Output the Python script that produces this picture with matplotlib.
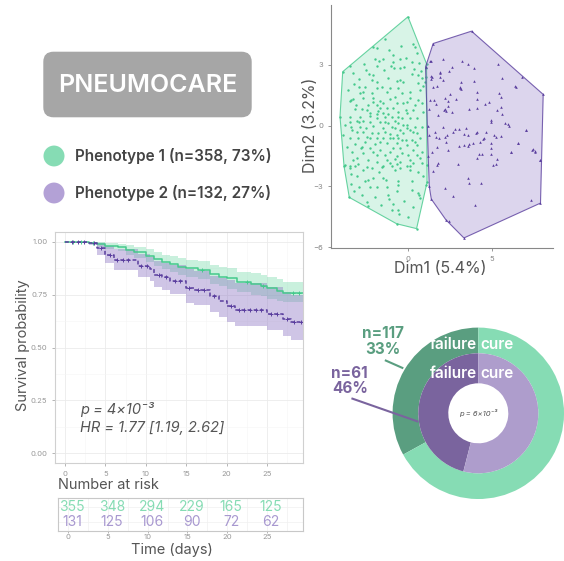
import numpy as np
import matplotlib
matplotlib.use("Agg")
import matplotlib.pyplot as plt
from matplotlib.patches import FancyBboxPatch, Polygon, Circle

plt.rcParams["font.family"] = ["Inter", "DejaVu Sans"]

W, H = 564, 561

# ---------------- data ----------------
group_labels = ["Phenotype 1 (n=358, 73%)", "Phenotype 2 (n=132, 27%)"]

# cluster map (individual coordinates on the first two dimensions)
pheno1_dim1 = [0.02, -1.34, -2.07, -1.79, 0.30, 0.43, -3.41, -3.84, -3.21, -2.46, -2.27, -2.03, -1.93, -1.67,
               -1.44, -0.89, -0.89, -0.45, -0.10, -0.98, -0.79, -1.83, -1.40, -0.45, -0.22, 0.24, 0.69, 0.37,
               0.77, 0.24, 0.63, 1.12, 1.08, -2.13, -1.83, -0.65, -0.45, -0.30, 0.63, 1.02, 1.08,
               -3.51, -2.86, -2.52, -1.83, -1.54, -0.55, 0.14, 0.73, 0.93, -0.36, -1.24, -2.13, -2.82, -3.21,
               -3.41, -2.62, -2.03, -1.64, -1.04, -0.75, 0.14, 0.63, 0.83, -0.26, -0.65, -1.44, -1.83, -2.32,
               -2.72, -3.11, -2.42, -1.64, -1.24, -0.85, 0.33, -0.55, -0.06, 0.89, -4.00, -3.41, -2.82, -2.23,
               -1.83, -1.34, -0.95, -0.36, 0.14, 0.53, -2.23, -2.62, -3.02, -3.41, -3.70, -1.64, -1.14, -0.55,
               -0.06, 0.43, 0.83, -2.82, -2.03, -1.44, -0.95, -0.45, 0.14, -3.31, -2.62, -2.13, -1.73, -1.34,
               -1.04, -0.65, -0.26, 0.53, -3.84, -3.41, -2.92, -2.42, -1.83, -1.44, -0.85, -0.36, 0.24, 0.73,
               -2.52, -3.11, -1.93, -1.24, -0.65, -0.06, 0.53, -3.61, -2.72, -2.23, -1.64, -0.85, -0.45, 0.33,
               0.83, -3.31, -2.62, -1.83, -1.34, -0.65, 0.04, -3.02, -2.32, -1.24, -0.75, 0.14, 0.73, -3.70,
               -3.41, -2.92, -2.42, -1.44, -1.04, -0.65, 0.14, 0.83,
               -3.45, -3.76, 0.53, -0.65, 1.08, 1.12, -3.41, -3.11, -2.62, -2.13, -1.54, -0.95, -0.75, -0.45,
               -0.06, 0.14, 0.63, -3.37, -2.52, -2.32, -2.03, -1.44, -1.28, -0.55, -0.55, 0.24, -3.37, -2.86,
               -2.23, -1.83, -1.24, -0.65, 0.24, 0.63, 0.73, -1.14, -1.93, -1.08, -2.42, -2.32, -0.85, -0.95,
               -0.55, -0.49, 0.04, 0.69, 1.15,
               -3.37, -3.05, -2.07, -1.73, -1.48, -1.14, -0.75, -0.30, -0.02, 0.33, -2.46, -2.97, -2.23, -1.64,
               -1.04, -0.55, -0.10, 0.43, -2.78, -2.03, -1.04, -0.36, 0.53, -3.21, -1.83, -0.45, 0.33, -2.62,
               -1.04, -0.06, 0.43, -2.23, -1.83, -1.34, -0.75, -2.86, -3.37, -0.10, -0.55,
               -2.90, -2.60, -1.10, -0.40, 0.55, -3.20, 0.85, -1.15,
               -3.00, -2.70, -1.60, -0.20, 0.30, -3.20, 0.90, -1.70]
pheno1_dim2 = [5.37, 4.26, 3.89, 3.84, 4.05, 3.89, 2.94, 2.66, 2.62, 2.74, 2.54, 2.49, 3.31, 3.18,
               3.28, 3.48, 3.12, 3.31, 3.36, 2.94, 2.85, 2.94, 2.74, 2.82, 2.90, 3.15, 3.07, 2.79,
               2.69, 2.57, 2.49, 3.05, 2.85, 2.25, 2.17, 2.20, 2.25, 2.13, 2.08, 2.17, 2.41,
               1.75, 1.92, 1.92, 1.84, 1.92, 1.84, 1.67, 1.75, 1.95, 1.59, 1.64, 1.59, 1.59, 1.31,
               1.21, 1.34, 1.38, 1.21, 1.31, 1.43, 1.38, 1.26, 1.10, 1.10, 1.10, 1.10, 1.02, 1.02,
               0.82, 0.82, 0.77, 0.85, 0.88, 0.88, 0.77, 0.66, 0.61, 0.69, 0.44, 0.44, 0.44, 0.49,
               0.56, 0.44, 0.44, 0.36, 0.36, 0.36, 0.20, 0.23, 0.23, 0.20, 0.03, 0.16, 0.11, 0.11,
               0.03, -0.05, -0.05, -0.05, 0.00, -0.10, -0.05, -0.21, -0.21, -0.21, -0.30, -0.38, -0.38, -0.30,
               -0.43, -0.46, -0.38, -0.38, -0.46, -0.62, -0.59, -0.54, -0.62, -0.59, -0.59, -0.71, -0.71, -0.62,
               -0.79, -0.92, -0.92, -0.87, -0.87, -0.95, -0.95, -1.03, -1.03, -1.12, -1.20, -1.12, -1.08, -1.20,
               -1.28, -1.28, -1.36, -1.44, -1.44, -1.48, -1.44, -1.61, -1.69, -1.69, -1.64, -1.69, -1.61, -1.94,
               -1.97, -1.90, -2.02, -1.97, -1.85, -1.90, -1.97, -1.85,
               -3.54, -2.01, -5.08, -4.84, -2.92, -1.93, -2.10, -2.01, -2.18, -2.10, -2.06, -2.01, -2.18, -2.10,
               -2.01, -2.18, -2.29, -2.39, -2.72, -2.67, -2.59, -2.59, -2.67, -2.75, -2.92, -2.75, -2.88, -3.05,
               -3.05, -3.05, -3.05, -3.21, -3.16, -3.33, -3.57, -3.41, -3.54, -3.61, -3.77, -3.98, -3.87, -4.15,
               -4.15, -4.36, -4.52, -3.44, -2.80,
               1.26, 1.02, 1.18, 0.72, 0.61, 0.56, 0.23, 0.03, -0.13, -0.30, -0.13, -0.30, -0.62, -0.79,
               -0.62, -0.59, -0.71, -0.79, -1.12, -1.28, -1.28, -1.36, -1.44, -1.69, -1.77, -1.77, -1.85, 1.67,
               1.84, 1.18, 1.02, 0.61, 0.36, 0.20, -0.13, 0.16, -0.05, 0.77, 0.44,
               2.30, 3.05, 3.75, 3.95, 3.60, 2.05, 2.35, 2.35,
               -2.50, -3.40, -3.90, -3.70, -4.00, -3.20, -2.50, -2.30]

pheno2_dim1 = [3.78, 2.10, 3.23, 2.64, 2.46, 3.55, 3.94, 5.35, 5.61, 6.74, 6.38, 2.10, 3.15, 3.92, 3.09, 1.91,
               1.51, 1.36, 1.91, 1.36, 1.91, 1.75, 1.06,
               3.09, 3.13, 4.08, 5.40, 5.53, 6.40, 2.50, 2.86, 2.38, 2.20, 2.40, 2.20, 2.30, 2.15, 2.60, 3.64,
               4.11, 4.13, 4.57, 4.82, 5.55, 5.30, 5.61, 4.96, 4.92, 5.77, 5.91, 6.01, 6.99, 2.11, 2.80, 3.05,
               3.48, 2.66, 2.34, 2.20, 3.35, 3.58, 4.04, 4.11, 4.63, 4.51, 4.43, 5.10, 5.20, 5.53, 2.26, 3.05,
               3.35, 3.64, 3.58, 3.88, 4.31, 4.96, 4.96, 6.54, 2.40, 6.14, 7.39, 7.52, 4.23, 4.39, 4.08, 4.96,
               7.82, 5.22, 2.99,
               1.51, 1.71, 1.81, 2.20, 2.70, 3.58, 3.64, 4.37, 3.98, 5.06, 5.26, 6.11, 6.54, 7.03, 7.33, 7.52,
               7.27, 7.82, 7.86, 8.02, 3.33, 2.26, 2.46, 1.40, 1.28,
               1.32, 1.36, 1.42, 1.51, 1.32, 1.55, 1.65, 1.28, 1.81, 1.22, 1.61, 1.65, 1.28, 1.71, 1.42, 1.87,
               1.22]
pheno2_dim2 = [4.66, 3.28, 3.18, 2.87, 2.69, 3.05, 2.85, 3.02, 2.33, 2.41, 1.95, 2.25, 2.13, 2.20, 1.92, 2.58,
               4.05, 3.18, 2.66, 2.46, 2.41, 1.95, 2.90,
               1.87, 1.81, 1.64, 1.59, 1.40, 1.92, 1.56, 1.31, 1.21, 1.35, 0.99, 0.82, 0.72, 0.77, 0.66, 0.80,
               1.31, 0.89, 1.05, 1.15, 0.94, 0.76, 0.56, 0.26, 0.20, 0.15, 0.07, 0.00, -0.21, -0.05, -0.18, -0.18,
               -0.13, -0.33, -0.46, -0.54, -0.43, -0.46, -0.38, -0.29, -0.33, -0.62, -0.65, -0.46, -0.57, -0.52,
               -0.82, -0.98, -0.95, -0.92, -0.98, -0.87, -0.79, -0.87, -1.11, -0.87, -1.20, -1.28, -1.15, -1.23,
               -1.41, -1.41, -1.60, -1.39, -1.70, -1.90, -1.90,
               -2.26, -1.93, -1.85, -3.08, -3.46, -2.59, -2.83, -2.83, -3.90, -1.93, -1.65, -1.28, -0.87, -0.21,
               -1.20, -1.28, -3.66, -1.69, -3.82, 1.54, -5.54, -4.64, -4.72, -3.62, -3.00,
               3.20, 2.30, 2.38, 1.90, 1.26, 1.26, 1.06, 0.80, 0.52, -0.01, -0.29, -0.54, -0.46, -1.03, -1.28,
               -0.62, -1.52]

# Kaplan-Meier estimates (time in days)
km_time_1 = [0, 3, 4, 5, 6.5, 7.5, 8.5, 10, 11, 12, 13, 14, 15, 16.5, 18, 19, 20, 21.3, 23, 24.2, 25, 26.2, 27]
km_surv_1 = [1.0, 0.995, 0.99, 0.982, 0.975, 0.962, 0.95, 0.935, 0.92, 0.905, 0.895, 0.882, 0.875, 0.868,
             0.848, 0.836, 0.827, 0.811, 0.80, 0.792, 0.78, 0.768, 0.756]
km_lower_1 = [1.0, 0.988, 0.978, 0.965, 0.955, 0.94, 0.925, 0.905, 0.888, 0.87, 0.858, 0.842, 0.834, 0.826,
              0.803, 0.79, 0.779, 0.762, 0.75, 0.742, 0.73, 0.72, 0.714]
km_upper_1 = [1.0, 1.0, 1.0, 0.996, 0.992, 0.985, 0.976, 0.965, 0.952, 0.94, 0.932, 0.922, 0.916, 0.91,
              0.893, 0.882, 0.875, 0.86, 0.851, 0.844, 0.834, 0.823, 0.812]
km_censor_1 = [1, 2, 3.5, 17, 22.5, 24.5, 28.2, 29]

km_time_2 = [0, 3, 4, 5, 6, 9, 10.5, 11, 12, 13, 15, 16, 18, 19, 20, 21, 25, 27, 28]
km_surv_2 = [1.0, 0.995, 0.97, 0.94, 0.915, 0.885, 0.872, 0.845, 0.832, 0.815, 0.78, 0.772, 0.742, 0.72,
             0.695, 0.68, 0.66, 0.635, 0.62]
km_lower_2 = [1.0, 0.985, 0.94, 0.898, 0.868, 0.832, 0.817, 0.786, 0.771, 0.752, 0.712, 0.703, 0.67, 0.646,
              0.62, 0.603, 0.582, 0.553, 0.535]
km_upper_2 = [1.0, 1.0, 0.995, 0.98, 0.965, 0.945, 0.93, 0.91, 0.90, 0.89, 0.87, 0.862, 0.84, 0.83,
              0.82, 0.805, 0.785, 0.762, 0.75]
km_censor_2 = [0.8, 1.6, 2.4, 3.6, 4.4, 5.6, 6.4, 7.2, 7.8, 9.4, 10.1, 11.6, 12.5, 13.6, 14.2, 15.4, 16.4,
               17.2, 18.5, 20.5, 21.5, 22.2, 22.9, 23.6, 24.3, 25.5, 26.2, 27.5, 28.4, 29.2]
follow_up_end = 30

risk_times = [0, 5, 10, 15, 20, 25]
risk_1 = [355, 348, 294, 229, 165, 125]
risk_2 = [131, 125, 106, 90, 72, 62]

outcome_labels = ["failure", "cure"]
outcome_pct_1 = [33, 67]
outcome_pct_2 = [46, 54]
failure_n = [117, 61]

green, green_light, green_dark = "#45c98c", "#86dcb4", "#5a9e80"
purple, purple_light, purple_dark = "#5a3e9e", "#ae9dcc", "#7a649e"
grey_txt = "#555555"


def px_axes(fig, left, top, right, bottom):
    return fig.add_axes([left / W, 1 - bottom / H, (right - left) / W, (bottom - top) / H])


def convex_hull(xs, ys):
    pts = sorted(set(zip(xs, ys)))

    def cross(o, a, b):
        return (a[0] - o[0]) * (b[1] - o[1]) - (a[1] - o[1]) * (b[0] - o[0])

    lower, upper = [], []
    for p in pts:
        while len(lower) >= 2 and cross(lower[-2], lower[-1], p) <= 0:
            lower.pop()
        lower.append(p)
    for p in reversed(pts):
        while len(upper) >= 2 and cross(upper[-2], upper[-1], p) <= 0:
            upper.pop()
        upper.append(p)
    return lower[:-1] + upper[:-1]


fig = plt.figure(figsize=(W / 100, H / 100), dpi=100)

# ---------------- title box + legend ----------------
fig.patches.append(FancyBboxPatch((43.3 / W, 1 - 117.3 / H), 208.4 / W, 65.6 / H,
                                  boxstyle="round,pad=0,rounding_size=0.018",
                                  transform=fig.transFigure, facecolor="#a6a6a6",
                                  edgecolor="none"))
fig.text(147.5 / W, 1 - 85 / H, "PNEUMOCARE", ha="center", va="center", color="white",
         fontsize=18, fontweight="semibold")

for i, (lab, col) in enumerate(zip(group_labels, ["#86dcb4", "#b3a1d6"])):
    yy = [156, 193][i]
    fig.patches.append(Circle((54 / W, 1 - yy / H), 10.5 / W, transform=fig.transFigure,
                              facecolor=col, edgecolor="none"))
    fig.text(75 / W, 1 - yy / H, lab, ha="left", va="center", color="#444444",
             fontsize=11, fontweight="semibold")

# ---------------- cluster plot ----------------
ax = px_axes(fig, 330.7, 5, 553, 248.3)
for xs, ys, col, fill, mk, sz in [(pheno1_dim1, pheno1_dim2, green, "#7fdcb0", "o", 3),
                                  (pheno2_dim1, pheno2_dim2, purple, "#8e76c4", "^", 3.5)]:
    hull = convex_hull(xs, ys)
    ax.add_patch(Polygon(hull, closed=True, facecolor=fill, alpha=0.3, edgecolor="none"))
    ax.add_patch(Polygon(hull, closed=True, facecolor="none", edgecolor=col, lw=0.8, alpha=0.8))
    ax.scatter(xs, ys, s=sz, color=col, marker=mk, linewidths=0)
ax.set_xlim(-4.55, 8.6)
ax.set_ylim(-6.05, 5.95)
ax.set_xticks([0, 5])
ax.set_yticks([-6, -3, 0, 3])
for side in ["top", "right"]:
    ax.spines[side].set_visible(False)
for side in ["left", "bottom"]:
    ax.spines[side].set_color("#888888")
    ax.spines[side].set_linewidth(0.8)
ax.tick_params(labelsize=5.5, colors="#888888", length=2, width=0.6)
fig.text(440 / W, 1 - 268 / H, "Dim1 (5.4%)", ha="center", va="center", fontsize=11.5, color=grey_txt)
fig.text(310.7 / W, 1 - 125 / H, "Dim2 (3.2%)", ha="center", va="center", rotation=90,
         fontsize=11.5, color=grey_txt)

# ---------------- Kaplan-Meier ----------------
ax = px_axes(fig, 55, 232, 303.3, 463.3)
for t, s, lo, hi, cens, col, fill, ls in [
        (km_time_1, km_surv_1, km_lower_1, km_upper_1, km_censor_1, green, "#7fdcb0", "-"),
        (km_time_2, km_surv_2, km_lower_2, km_upper_2, km_censor_2, purple, "#8e76c4", (0, (2.5, 1.5)))]:
    te = t + [follow_up_end]
    ax.fill_between(te, lo + [lo[-1]], hi + [hi[-1]], step="post", color=fill, alpha=0.42, lw=0)
    ax.step(te, s + [s[-1]], where="post", color=col, lw=1.1, ls=ls)
    idx = np.searchsorted(t, cens, side="right") - 1
    ax.plot(cens, np.array(s)[idx], "+", color=col, ms=3.5, mew=0.7)
ax.set_xlim(-1.25, 29.5)
ax.set_ylim(-0.048, 1.047)
ax.set_xticks([0, 5, 10, 15, 20, 25])
ax.set_xticks([2.5, 7.5, 12.5, 17.5, 22.5, 27.5], minor=True)
ax.set_yticks([0, 0.25, 0.5, 0.75, 1.0])
ax.set_yticks([0.125, 0.375, 0.625, 0.875], minor=True)
ax.set_yticklabels(["0.00", "0.25", "0.50", "0.75", "1.00"])
ax.grid(which="major", color="#ebebeb", lw=0.6)
ax.grid(which="minor", color="#f5f5f5", lw=0.4)
ax.set_axisbelow(True)
for sp in ax.spines.values():
    sp.set_color("#d0d0d0")
    sp.set_linewidth(0.8)
ax.tick_params(labelsize=5.5, colors="#999999", length=2, width=0.5)
ax.tick_params(which="minor", length=0)
ax.text(1.9, 0.205, "p = 4×10⁻³", fontsize=10.5, style="italic", color=grey_txt, va="center")
ax.text(1.9, 0.12, "HR = 1.77 [1.19, 2.62]", fontsize=10.5, style="italic", color=grey_txt, va="center")
fig.text(23 / W, 1 - 345 / H, "Survival probability", ha="center", va="center", rotation=90,
         fontsize=10.5, color=grey_txt)

# risk table
fig.text(58 / W, 1 - 485 / H, "Number at risk", ha="left", va="center", fontsize=10.5, color=grey_txt)
ax = px_axes(fig, 58.3, 498.3, 302.7, 531)
ax.set_xlim(-1.26, 29.5)
ax.set_ylim(0, 1)
for tt, a, b in zip(risk_times, risk_1, risk_2):
    ax.text(tt + 0.5, 0.74, str(a), ha="center", va="center", fontsize=10, color="#86dcb4")
    ax.text(tt + 0.5, 0.28, str(b), ha="center", va="center", fontsize=10, color="#a898d0")
ax.set_xticks(risk_times)
ax.set_xticks([2.5, 7.5, 12.5, 17.5, 22.5, 27.5], minor=True)
ax.set_yticks([0.28, 0.74])
ax.set_yticklabels([])
ax.grid(which="both", axis="x", color="#f0f0f0", lw=0.5)
ax.grid(which="major", axis="y", color="#f0f0f0", lw=0.5)
for sp in ax.spines.values():
    sp.set_color("#c8c8c8")
    sp.set_linewidth(0.8)
ax.tick_params(labelsize=5.5, colors="#999999", length=1.5, width=0.5, pad=0.5)
ax.tick_params(axis="y", length=0)
ax.tick_params(which="minor", length=0)
fig.text(171.7 / W, 1 - 550 / H, "Time (days)", ha="center", va="center", fontsize=10.5, color=grey_txt)

# ---------------- outcome donut ----------------
ax = px_axes(fig, 478.3 - 90, 413.3 - 90, 478.3 + 90, 413.3 + 90)
ax.pie(outcome_pct_1, radius=1.0, startangle=90, counterclock=True, colors=[green_dark, green_light],
       wedgeprops=dict(width=0.30, edgecolor="none"))
ax.pie(outcome_pct_2, radius=0.70, startangle=90, counterclock=True, colors=[purple_dark, purple_light],
       wedgeprops=dict(width=0.35, edgecolor="none"))
ax.set_xlim(-1.05, 1.05)
ax.set_ylim(-1.05, 1.05)
ax.set_aspect("equal")
ax.axis("off")
for yy in [0.80, 0.47]:
    ax.text(-0.015, yy, outcome_labels[0], ha="right", va="center", color="white", fontsize=11,
            fontweight="semibold")
    ax.text(0.02, yy, outcome_labels[1], ha="left", va="center", color="white", fontsize=11,
            fontweight="semibold")
ax.text(0, 0, "p = 6×10⁻³", ha="center", va="center", fontsize=5.5, style="italic", color=grey_txt)

ax.text(-1.11, 0.84, f"n={failure_n[0]}\n{outcome_pct_1[0]}%", ha="center", va="center", fontsize=11,
        fontweight="bold", color=green_dark, linespacing=1.05, clip_on=False)
ax.plot([-1.09, -0.875], [0.62, 0.525], color=green_dark, lw=1.5, clip_on=False, solid_capstyle="butt")
ax.text(-1.50, 0.377, f"n={failure_n[1]}\n{outcome_pct_2[0]}%", ha="center", va="center", fontsize=11,
        fontweight="bold", color=purple_dark, linespacing=1.05, clip_on=False)
ax.plot([-1.48, -0.70], [0.175, -0.098], color=purple_dark, lw=1.5, clip_on=False, solid_capstyle="butt")

fig.savefig("out.png", dpi=100)
